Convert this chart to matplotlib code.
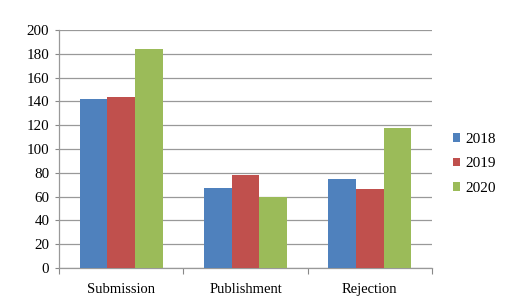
import matplotlib
matplotlib.use('Agg')
import matplotlib.pyplot as plt
from matplotlib.ticker import FixedLocator
import numpy as np

categories = ['Submission', 'Publishment', 'Rejection']
years = ['2018', '2019', '2020']
values_2018 = [142, 67, 75]
values_2019 = [144, 78, 66]
values_2020 = [184, 60, 118]
colors = ['#4F81BD', '#C0504D', '#9BBB59']

plt.rcParams['font.family'] = ['Liberation Serif', 'DejaVu Serif']

fig = plt.figure(figsize=(5.11, 3.02), dpi=100)
ax = fig.add_axes([59 / 511, 1 - 268 / 302, (432 - 59) / 511, (268 - 30) / 302])

x = np.arange(len(categories))
w = 0.222
for i, (vals, year) in enumerate(zip([values_2018, values_2019, values_2020], years)):
    ax.bar(x + (i - 1) * w, vals, width=w, color=colors[i], label=year, zorder=3)

ax.set_xlim(-0.5, 2.5)
ax.set_ylim(0, 200)
ax.set_yticks(range(0, 201, 20))
ax.set_xticks(x)
ax.set_xticklabels(categories)
ax.xaxis.set_minor_locator(FixedLocator([-0.5, 0.5, 1.5, 2.5]))
ax.tick_params(axis='x', which='major', length=0, pad=11, labelsize=10.5)
ax.tick_params(axis='x', which='minor', length=4, color='#888888', width=0.8)
ax.tick_params(axis='y', length=3, color='#888888', width=0.8, labelsize=10.8, pad=4)
ax.grid(axis='y', color='#999999', linewidth=0.9, zorder=0)
for s in ['top', 'right']:
    ax.spines[s].set_visible(False)
for s in ['left', 'bottom']:
    ax.spines[s].set_color('#999999')
    ax.spines[s].set_linewidth(0.9)

ax.legend(loc='center left', bbox_to_anchor=(1.02, 0.437), frameon=False, fontsize=11,
          handlelength=0.45, handleheight=0.45, handletextpad=0.35, labelspacing=0.75)

fig.savefig('out.png', dpi=100)
